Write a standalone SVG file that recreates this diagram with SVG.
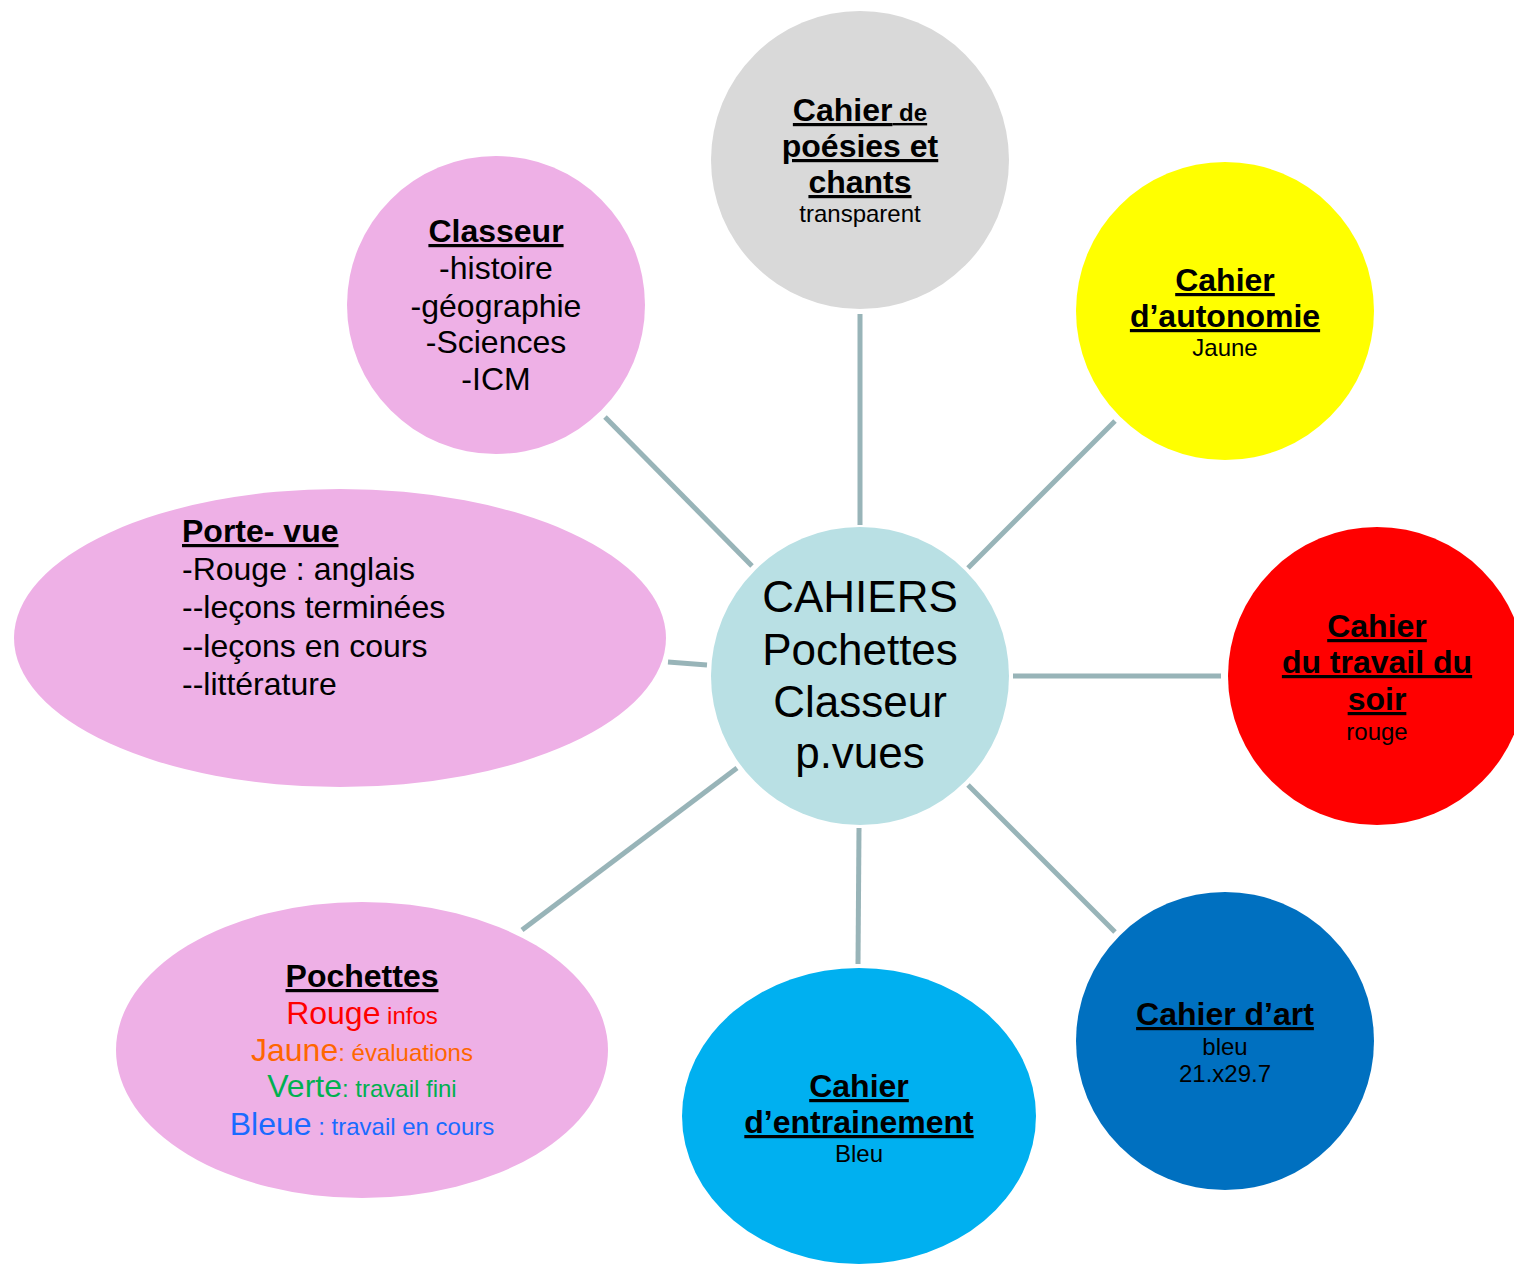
<svg xmlns="http://www.w3.org/2000/svg" width="1514" height="1264" viewBox="0 0 1514 1264">
<style>
text{font-family:"Liberation Sans",Arial,Helvetica,sans-serif;fill:#000}
.c{text-anchor:middle}
.t{font-size:32px;font-weight:bold;text-decoration:underline}
.r{font-size:32px}
.s{font-size:24px}
.big{font-size:44px}
.conn line{stroke:#98B4B8;stroke-width:5}
.pink{fill:#EEB0E6}
</style>
<rect width="1514" height="1264" fill="#fff"/>
<g id="connectors" class="conn">
<line x1="860" y1="314" x2="860" y2="525"/>
<line x1="1115" y1="421" x2="968" y2="568"/>
<line x1="1013" y1="676" x2="1221" y2="676"/>
<line x1="968" y1="785" x2="1115" y2="932"/>
<line x1="859" y1="828" x2="858" y2="964"/>
<line x1="737" y1="768" x2="522" y2="930"/>
<line x1="668" y1="662" x2="707" y2="665"/>
<line x1="605" y1="417" x2="752" y2="566"/>
</g>
<g id="node-poesies">
<circle cx="860" cy="160" r="149" fill="#D9D9D9"/>
<text class="c t" x="860" y="121">Cahier<tspan font-size="24"> de</tspan></text>
<text class="c t" x="860" y="157">poésies et</text>
<text class="c t" x="860" y="193">chants</text>
<text class="c s" x="860" y="222">transparent</text>
</g>
<g id="node-autonomie">
<circle cx="1225" cy="311" r="149" fill="#FFFF00"/>
<text class="c t" x="1225" y="291">Cahier</text>
<text class="c t" x="1225" y="327">d’autonomie</text>
<text class="c s" x="1225" y="356">Jaune</text>
</g>
<g id="node-soir">
<circle cx="1377" cy="676" r="149" fill="#FF0000"/>
<text class="c t" x="1377" y="637">Cahier</text>
<text class="c t" x="1377" y="673">du travail du</text>
<text class="c t" x="1377" y="710">soir</text>
<text class="c s" x="1377" y="740">rouge</text>
</g>
<g id="node-art">
<circle cx="1225" cy="1041" r="149" fill="#0070C0"/>
<text class="c t" x="1225" y="1025">Cahier d’art</text>
<text class="c s" x="1225" y="1055">bleu</text>
<text class="c s" x="1225" y="1082">21.x29.7</text>
</g>
<g id="node-entrainement">
<ellipse cx="859" cy="1116" rx="177" ry="148" fill="#00B0F0"/>
<text class="c t" x="859" y="1097">Cahier</text>
<text class="c t" x="859" y="1133">d’entrainement</text>
<text class="c s" x="859" y="1162">Bleu</text>
</g>
<g id="node-pochettes">
<ellipse class="pink" cx="362" cy="1050" rx="246" ry="148"/>
<text class="c t" x="362" y="987">Pochettes</text>
<text class="c r" x="362" y="1024" fill="#FF0000" style="fill:#FF0000">Rouge<tspan font-size="24"> infos</tspan></text>
<text class="c r" x="362" y="1061" style="fill:#FF6600">Jaune<tspan font-size="24">: évaluations</tspan></text>
<text class="c r" x="362" y="1097" style="fill:#00B050">Verte<tspan font-size="24">: travail fini</tspan></text>
<text class="c r" x="362" y="1135" style="fill:#1A6BFF">Bleue<tspan font-size="24"> : travail en cours</tspan></text>
</g>
<g id="node-portevue">
<ellipse class="pink" cx="340" cy="638" rx="326" ry="149"/>
<text class="t" x="182" y="542">Porte- vue</text>
<text class="r" x="182" y="580">-Rouge : anglais</text>
<text class="r" x="182" y="618">--leçons terminées</text>
<text class="r" x="182" y="657">--leçons en cours</text>
<text class="r" x="182" y="695">--littérature</text>
</g>
<g id="node-classeur">
<circle class="pink" cx="496" cy="305" r="149"/>
<text class="c t" x="496" y="242">Classeur</text>
<text class="c r" x="496" y="279">-histoire</text>
<text class="c r" x="496" y="317">-géographie</text>
<text class="c r" x="496" y="353">-Sciences</text>
<text class="c r" x="496" y="390">-ICM</text>
</g>
<g id="node-center">
<circle cx="860" cy="676" r="149" fill="#B9E0E4"/>
<text class="c big" x="860" y="612">CAHIERS</text>
<text class="c big" x="860" y="665">Pochettes</text>
<text class="c big" x="860" y="717">Classeur</text>
<text class="c big" x="860" y="768">p.vues</text>
</g>
</svg>
